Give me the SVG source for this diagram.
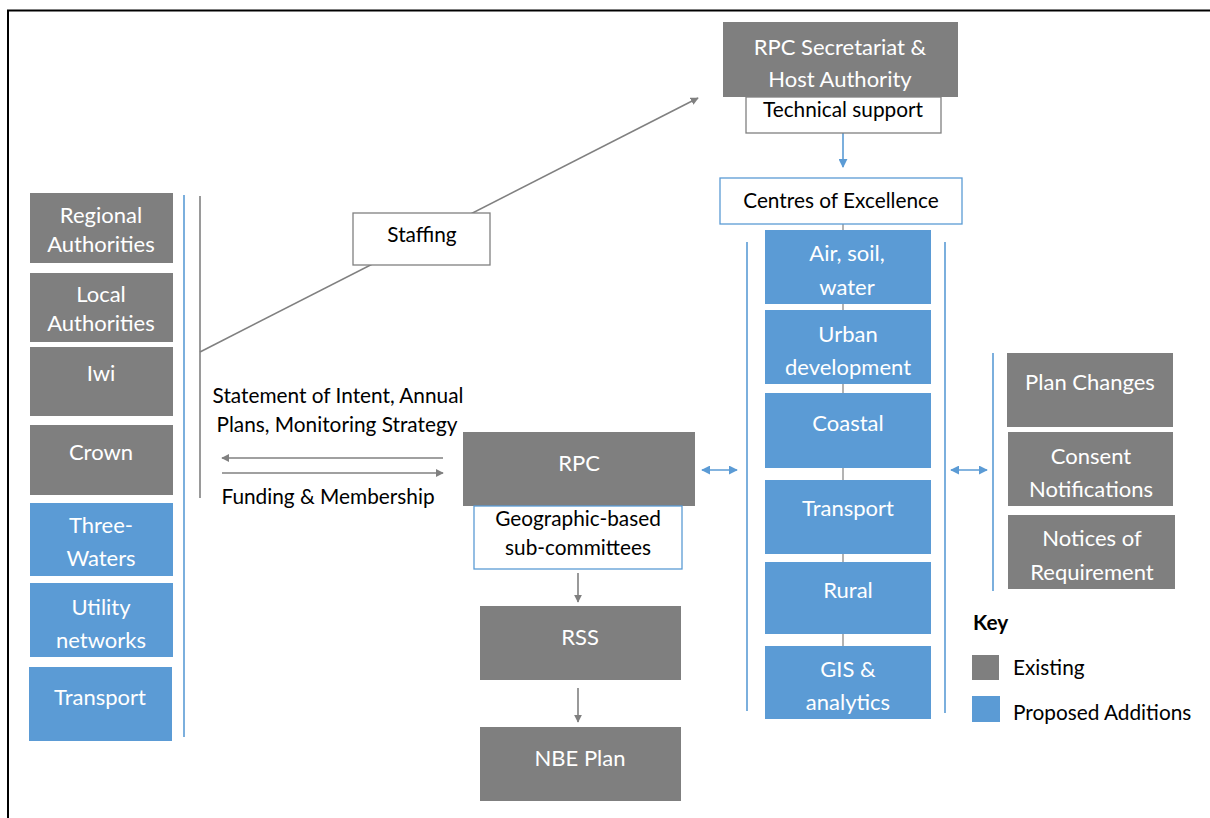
<svg xmlns="http://www.w3.org/2000/svg" width="1210" height="818" viewBox="0 0 1210 818">
<defs>
<marker id="ag" viewBox="0 0 10 10" refX="9" refY="5" markerWidth="8" markerHeight="8" markerUnits="userSpaceOnUse" orient="auto-start-reverse"><path d="M0,0 L10,5 L0,10 z" fill="#808080"/></marker>
<marker id="ab" viewBox="0 0 10 10" refX="9" refY="5" markerWidth="9" markerHeight="9" markerUnits="userSpaceOnUse" orient="auto-start-reverse"><path d="M0,0 L10,5 L0,10 z" fill="#5B9BD5"/></marker>
</defs>
<style>
.g{fill:#7F7F7F}
.b{fill:#5B9BD5}
.wb{fill:#FFFFFF;stroke:#5B9BD5;stroke-width:1.3}
.wg{fill:#FFFFFF;stroke:#808080;stroke-width:1.3}
text{font-family:Lato,"Liberation Sans",sans-serif;font-size:22px;text-anchor:middle}
.tw{fill:#FFFFFF}
.tk{fill:#000000;font-size:20.8px}
.lab{fill:#000000;font-size:20.8px}
.lg{stroke:#808080;stroke-width:1.6;fill:none}
.lb{stroke:#5B9BD5;stroke-width:1.6;fill:none}
.ld{stroke:#808080;stroke-width:1.2;fill:none}
.ks{text-anchor:start;font-size:20.8px}
</style>
<rect x="0" y="0" width="1210" height="818" fill="#FFFFFF"/>
<rect x="8" y="10.5" width="1220" height="830" fill="none" stroke="#000000" stroke-width="2"/>

<g id="connectors">
<line class="lg" x1="200" y1="196" x2="200" y2="498"/>
<line class="lb" x1="184" y1="195" x2="184" y2="737"/>
<line class="lg" x1="200" y1="352" x2="698" y2="98" marker-end="url(#ag)"/>
<line class="lb" x1="843" y1="133" x2="843" y2="167" marker-end="url(#ab)"/>
<line class="lg" x1="443" y1="458" x2="222" y2="458" marker-end="url(#ag)"/>
<line class="lg" x1="222" y1="473" x2="443" y2="473" marker-end="url(#ag)"/>
<line class="lg" x1="578" y1="573" x2="578" y2="602" marker-end="url(#ag)"/>
<line class="lg" x1="578" y1="688" x2="578" y2="722" marker-end="url(#ag)"/>
<line class="ld" x1="843" y1="224" x2="843" y2="646"/>
<line class="lb" x1="747" y1="242" x2="747" y2="711"/>
<line class="lb" x1="945" y1="242" x2="945" y2="713"/>
<line class="lb" x1="993" y1="353" x2="993" y2="591"/>
<line class="lb" x1="702" y1="470" x2="737" y2="470" marker-start="url(#ab)" marker-end="url(#ab)"/>
<line class="lb" x1="951" y1="470" x2="987" y2="470" marker-start="url(#ab)" marker-end="url(#ab)"/>
</g>

<g id="labels">
<text class="lab" x="338" y="403">Statement of Intent, Annual</text>
<text class="lab" x="337" y="432">Plans, Monitoring Strategy</text>
<text class="lab" x="328" y="504">Funding &amp; Membership</text>
</g>

<g id="secretariat"><rect class="g" x="723" y="22" width="235" height="75"/><text class="tw" x="840" y="55">RPC Secretariat &amp;</text><text class="tw" x="840" y="87">Host Authority</text></g>
<g id="technical"><rect class="wg" x="746" y="97" width="195" height="36"/><text class="tk" x="843" y="117">Technical support</text></g>
<g id="centres"><rect class="wb" x="720" y="178" width="242" height="46"/><text class="tk" x="841" y="208">Centres of Excellence</text></g>
<g id="staffing"><rect class="wg" x="353" y="213" width="137" height="52"/><text class="tk" x="422" y="242">Staffing</text></g>

<g id="regional"><rect class="g" x="30" y="193" width="143" height="70"/><text class="tw" x="101" y="223">Regional</text><text class="tw" x="101" y="252">Authorities</text></g>
<g id="local"><rect class="g" x="30" y="273" width="143" height="69"/><text class="tw" x="101" y="302">Local</text><text class="tw" x="101" y="331">Authorities</text></g>
<g id="iwi"><rect class="g" x="30" y="347" width="143" height="69"/><text class="tw" x="101" y="381">Iwi</text></g>
<g id="crown"><rect class="g" x="30" y="425" width="143" height="70"/><text class="tw" x="101" y="460">Crown</text></g>
<g id="threewaters"><rect class="b" x="30" y="503" width="143" height="73"/><text class="tw" x="101" y="533">Three-</text><text class="tw" x="101" y="566">Waters</text></g>
<g id="utility"><rect class="b" x="30" y="583" width="143" height="74"/><text class="tw" x="101" y="615">Utility</text><text class="tw" x="101" y="648">networks</text></g>
<g id="transport-left"><rect class="b" x="29" y="667" width="143" height="74"/><text class="tw" x="100" y="705">Transport</text></g>

<g id="rpc"><rect class="g" x="463" y="432" width="232" height="74"/><text class="tw" x="579" y="471">RPC</text></g>
<g id="subcommittees"><rect class="wb" x="474" y="506" width="208" height="63"/><text class="tk" x="578" y="526">Geographic-based</text><text class="tk" x="578" y="555">sub-committees</text></g>
<g id="rss"><rect class="g" x="480" y="606" width="201" height="74"/><text class="tw" x="580" y="645">RSS</text></g>
<g id="nbe"><rect class="g" x="480" y="727" width="201" height="74"/><text class="tw" x="580" y="766">NBE Plan</text></g>

<g id="air"><rect class="b" x="765" y="230" width="166" height="74"/><text class="tw" x="847" y="261">Air, soil,</text><text class="tw" x="847" y="295">water</text></g>
<g id="urban"><rect class="b" x="765" y="310" width="166" height="74"/><text class="tw" x="848" y="342">Urban</text><text class="tw" x="848" y="375">development</text></g>
<g id="coastal"><rect class="b" x="765" y="393" width="166" height="75"/><text class="tw" x="848" y="431">Coastal</text></g>
<g id="transport-coe"><rect class="b" x="765" y="480" width="166" height="74"/><text class="tw" x="848" y="516">Transport</text></g>
<g id="rural"><rect class="b" x="765" y="562" width="166" height="72"/><text class="tw" x="848" y="598">Rural</text></g>
<g id="gis"><rect class="b" x="765" y="646" width="166" height="73"/><text class="tw" x="848" y="677">GIS &amp;</text><text class="tw" x="848" y="710">analytics</text></g>

<g id="planchanges"><rect class="g" x="1007" y="353" width="166" height="74"/><text class="tw" x="1090" y="390">Plan Changes</text></g>
<g id="consent"><rect class="g" x="1008" y="432" width="165" height="74"/><text class="tw" x="1091" y="464">Consent</text><text class="tw" x="1091" y="497">Notifications</text></g>
<g id="notices"><rect class="g" x="1008" y="515" width="167" height="74"/><text class="tw" x="1092" y="546">Notices of</text><text class="tw" x="1092" y="580">Requirement</text></g>

<g id="key">
<text x="973" y="630" class="ks" style="font-weight:bold">Key</text>
<rect class="g" x="972" y="655" width="27" height="25"/>
<text x="1013" y="675" class="ks">Existing</text>
<rect class="b" x="972" y="696" width="28" height="26"/>
<text x="1013" y="720" class="ks">Proposed Additions</text>
</g>
</svg>
